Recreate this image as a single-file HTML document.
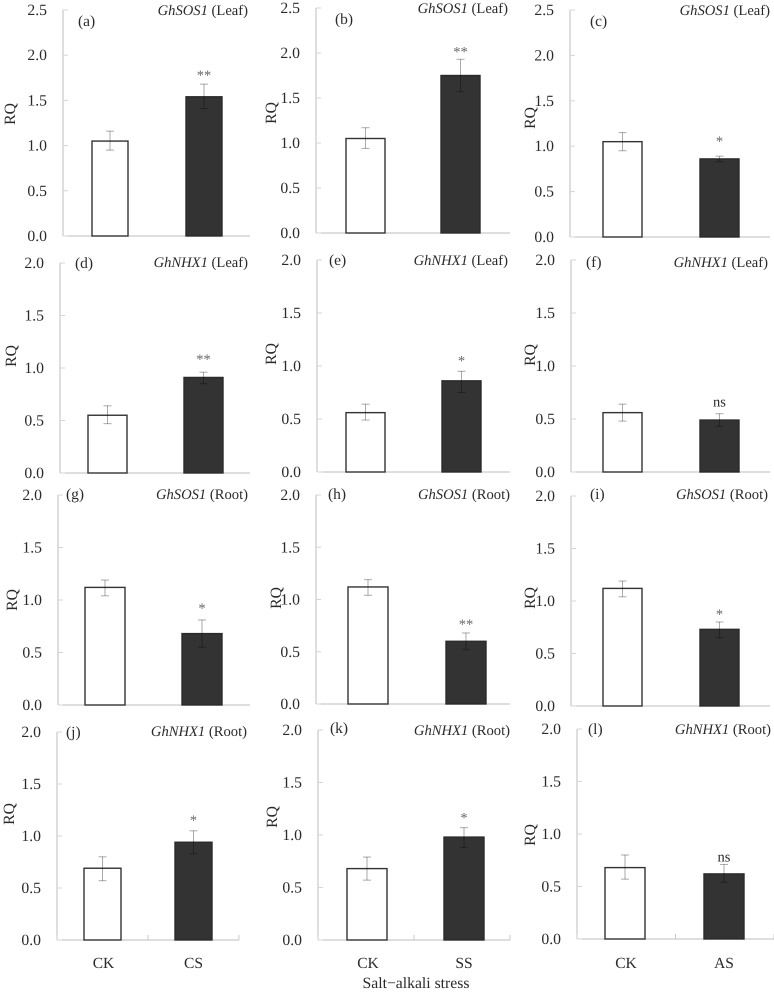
<!DOCTYPE html>
<html lang="en">
<head>
<meta charset="utf-8">
<title>Relative expression of GhSOS1 and GhNHX1 under salt-alkali stress</title>
<style>
html,body{margin:0;padding:0;background:#fff;}
svg{display:block;font-family:"Liberation Serif",serif;fill:#2a2a2a;text-rendering:geometricPrecision;filter:blur(0.3px);}
</style>
</head>
<body>
<svg id="figure" xmlns="http://www.w3.org/2000/svg" width="774" height="992" viewBox="0 0 774 992">
<text x="416" y="988" font-size="15.7" text-anchor="middle">Salt−alkali stress</text>
</svg>
<script>
// Chart data
const panelLetters = ["a","b","c","d","e","f","g","h","i","j","k","l"];
const genes = ["GhSOS1","GhSOS1","GhSOS1","GhNHX1","GhNHX1","GhNHX1","GhSOS1","GhSOS1","GhSOS1","GhNHX1","GhNHX1","GhNHX1"];
const organs = ["Leaf","Leaf","Leaf","Leaf","Leaf","Leaf","Root","Root","Root","Root","Root","Root"];
const treatmentNames = ["CS","SS","AS","CS","SS","AS","CS","SS","AS","CS","SS","AS"];
const controlName = "CK";
const ckValues = [1.05,1.05,1.05,0.55,0.56,0.56,1.12,1.12,1.12,0.69,0.68,0.68];
const ckUpper = [1.16,1.17,1.15,0.64,0.64,0.64,1.19,1.19,1.19,0.80,0.79,0.80];
const ckLower = [0.95,0.94,0.95,0.47,0.49,0.48,1.04,1.04,1.04,0.57,0.57,0.57];
const treatedValues = [1.54,1.75,0.86,0.91,0.86,0.49,0.68,0.60,0.73,0.94,0.98,0.62];
const treatedUpper = [1.68,1.93,0.89,0.96,0.95,0.55,0.81,0.68,0.80,1.05,1.07,0.71];
const treatedLower = [1.41,1.57,0.83,0.85,0.75,0.43,0.55,0.52,0.65,0.83,0.88,0.54];
const significance = ["**","**","*","**","*","ns","*","**","*","*","*","ns"];
const ticksLeafSOS = ["0.0","0.5","1.0","1.5","2.0","2.5"];
const ticksOther = ["0.0","0.5","1.0","1.5","2.0"];
const panelTicks = [ticksLeafSOS,ticksLeafSOS,ticksLeafSOS,ticksOther,ticksOther,ticksOther,ticksOther,ticksOther,ticksOther,ticksOther,ticksOther,ticksOther];

// Panel geometry (separate from the data)
const panelFrames = [
 {ax:63, top:10, bot:236, right:250, b1:92, b2:186, bw:36, rqx:10, rqy:114, lx:78, ly:21, tx:248, ty:10, sg:4},
 {ax:316,top:8,  bot:233, right:510, b1:346,b2:441, bw:39, rqx:271,rqy:113, lx:335,ly:19, tx:508, ty:8, sg:3},
 {ax:570,top:10, bot:237, right:770, b1:603,b2:700, bw:39, rqx:530,rqy:118, lx:590,ly:21, tx:770, ty:10, sg:10},
 {ax:60, top:263,bot:473, right:250, b1:88, b2:184, bw:39, rqx:11, rqy:356, lx:75, ly:263,tx:248, ty:262, sg:8},
 {ax:317,top:260,bot:472, right:510, b1:346,b2:442, bw:39, rqx:271,rqy:354, lx:329,ly:260,tx:508, ty:260, sg:6},
 {ax:571,top:260,bot:472, right:770, b1:603,b2:700, bw:39, rqx:530,rqy:355, lx:586,ly:262,tx:768, ty:262, sg:7},
 {ax:58, top:495,bot:705, right:250, b1:85, b2:182, bw:40, rqx:12, rqy:600, lx:66, ly:494,tx:248, ty:494, sg:7},
 {ax:316,top:495,bot:704, right:510, b1:348,b2:446, bw:40, rqx:276,rqy:598, lx:328,ly:494,tx:510, ty:494, sg:4},
 {ax:571,top:496,bot:706, right:770, b1:603,b2:700, bw:39, rqx:530,rqy:598, lx:590,ly:494,tx:768, ty:494, sg:3},
 {ax:57, top:732,bot:940, right:239, b1:84, b2:175, bw:37, rqx:9,  rqy:814, lx:66, ly:732,tx:247, ty:731, sg:6},
 {ax:318,top:730,bot:940, right:510, b1:347,b2:444, bw:40, rqx:272,rqy:817, lx:330,ly:728,tx:510, ty:730, sg:5},
 {ax:577,top:729,bot:939, right:774, b1:605,b2:704, bw:40, rqx:530,rqy:835, lx:588,ly:729,tx:771, ty:729, sg:3}
];

const svg = document.getElementById('figure');
const NS = 'http://www.w3.org/2000/svg';

function make(tag, parent, props){
  const el = document.createElementNS(NS, tag);
  for (const k in props) el.setAttribute(k, props[k]);
  parent.appendChild(el);
  return el;
}

function drawErrorBar(g, center, hi, lo, name){
  const stem = make('line', g, {x1:center, x2:center, y1:hi, y2:lo, stroke:'#aaa', 'stroke-width':1, style:'mix-blend-mode:multiply'});
  
  
  const capHi = make('line', g, {x1:center-4, x2:center+4, y1:hi, y2:hi, stroke:'#aaa', 'stroke-width':1, style:'mix-blend-mode:multiply'});
  
  
  const capLo = make('line', g, {x1:center-4, x2:center+4, y1:lo, y2:lo, stroke:'#aaa', 'stroke-width':1, style:'mix-blend-mode:multiply'});
  
  
}

panelLetters.forEach(function(letter, i){
  const f = panelFrames[i];
  const labels = panelTicks[i];
  const maxVal = parseFloat(labels[labels.length-1]);
  const yScale = function(v){ return f.bot - (v / maxVal) * (f.bot - f.top); };

  const g = make('g', svg, {});
  
  

  const yAxis = make('line', g, {x1:f.ax, x2:f.ax, y1:f.top, y2:f.bot, stroke:'#bdbdbd', 'stroke-width':1});
  
  
  const xAxis = make('line', g, {x1:f.ax, x2:f.right, y1:f.bot, y2:f.bot, stroke:'#bdbdbd', 'stroke-width':1});
  
  

  labels.forEach(function(lbl){
    const y = yScale(parseFloat(lbl));
    const tick = make('line', g, {x1:f.ax, x2:f.ax+5, y1:y, y2:y, stroke:'#d5d5d5', 'stroke-width':1});
    
    
    const t = make('text', g, {x:f.ax-16, y:y+5, 'font-size':15.7, 'text-anchor':'end'});
    t.textContent = lbl;
    
    
  });

  const rq = make('text', g, {x:0, y:0, 'font-size':15.7, 'text-anchor':'middle', transform:'translate(' + (f.rqx+5) + ',' + f.rqy + ') rotate(-90)'});
  rq.textContent = 'RQ';
  
  

  const pl = make('text', g, {x:f.lx, y:f.ly+5, 'font-size':15.5});
  pl.textContent = '(' + letter + ')';
  
  

  const title = make('text', g, {x:f.tx, y:f.ty+5, 'font-size':14.6, 'text-anchor':'end'});
  
  
  const gene = make('tspan', title, {'font-style':'italic'});
  gene.textContent = genes[i];
  const organ = make('tspan', title, {});
  organ.textContent = ' (' + organs[i] + ')';

  const ckTop = yScale(ckValues[i]);
  const ckBar = make('rect', g, {x:f.b1, y:ckTop, width:f.bw, height:f.bot-ckTop, fill:'#fff', stroke:'#333', 'stroke-width':1.4});
  
  
  const trTop = yScale(treatedValues[i]);
  const trBar = make('rect', g, {x:f.b2, y:trTop, width:f.bw, height:f.bot-trTop, fill:'#333', stroke:'#2a2a2a', 'stroke-width':1.4});
  
  

  drawErrorBar(g, f.b1+f.bw/2, yScale(ckUpper[i]), yScale(ckLower[i]), 'ck');
  drawErrorBar(g, f.b2+f.bw/2, yScale(treatedUpper[i]), yScale(treatedLower[i]), 'treated');

  const sigY = yScale(treatedUpper[i]) - f.sg;
  const sig = make('text', g, {x:f.b2+f.bw/2, y:sigY, 'font-size':14.5, 'text-anchor':'middle', fill:significance[i]==='ns' ? '#2a2a2a' : '#666'});
  sig.textContent = significance[i];
  
  

  if (i >= 9) {
    [f.ax, (f.ax+f.right)/2, f.right].forEach(function(x){
      const xt = make('line', g, {x1:x, x2:x, y1:f.bot-5, y2:f.bot, stroke:'#c8c8c8', 'stroke-width':1});
      
      
    });
    const ck = make('text', g, {x:f.b1+f.bw/2+1, y:968, 'font-size':15.5, 'text-anchor':'middle'});
    ck.textContent = controlName;
    
    
    const tr = make('text', g, {x:f.b2+f.bw/2, y:968, 'font-size':15.5, 'text-anchor':'middle'});
    tr.textContent = treatmentNames[i];
    
    
  }
});
</script>
</body>
</html>
